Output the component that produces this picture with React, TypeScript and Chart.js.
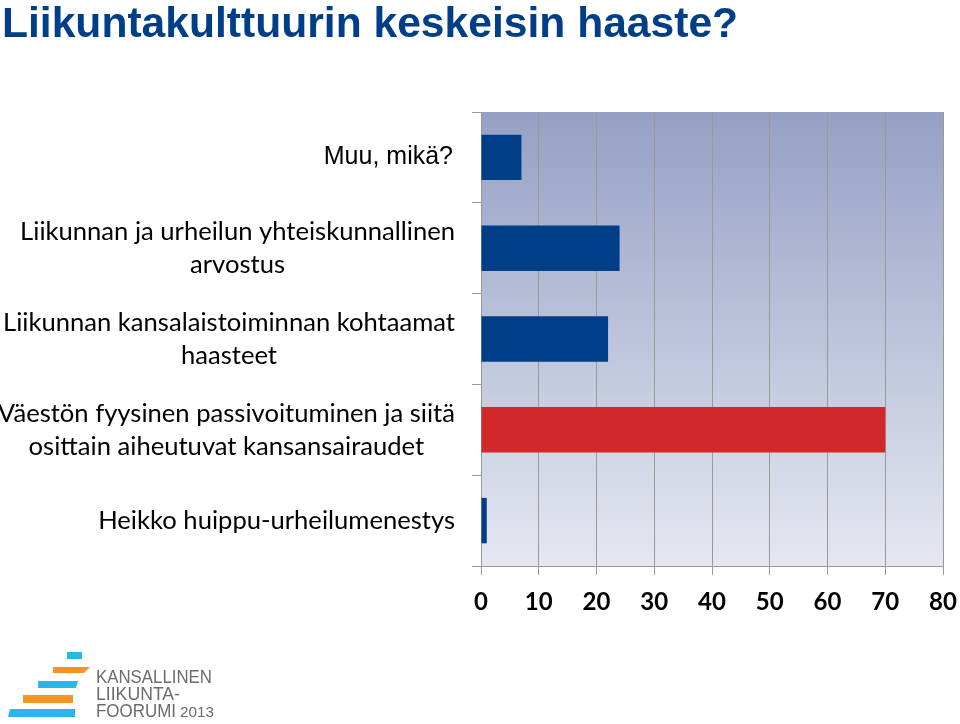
import React, { useEffect, useRef } from "react";
import { Chart, registerables } from "chart.js";

Chart.register(...registerables);

const TITLE = "Liikuntakulttuurin keskeisin haaste?";
const categories: string[][] = [
  ["Muu, mikä?"],
  ["Liikunnan ja urheilun yhteiskunnallinen", "arvostus"],
  ["Liikunnan kansalaistoiminnan kohtaamat", "haasteet"],
  ["Väestön fyysinen passivoituminen ja siitä", "osittain aiheutuvat kansansairaudet"],
  ["Heikko huippu-urheilumenestys"],
];
const values = [7, 24, 22, 70, 1];
const barColors = ["#003f87", "#003f87", "#003f87", "#d3282a", "#003f87"];
const xMin = 0;
const xMax = 80;
const xStep = 10;

const bgPlugin = {
  id: "plotBg",
  beforeDraw(chart: any) {
    const { ctx, chartArea } = chart;
    if (!chartArea) return;
    const g = ctx.createLinearGradient(0, chartArea.top, 0, chartArea.bottom);
    g.addColorStop(0, "#95a0c4");
    g.addColorStop(1, "#e5e8f1");
    ctx.save();
    ctx.fillStyle = g;
    ctx.fillRect(chartArea.left, chartArea.top, chartArea.right - chartArea.left, chartArea.bottom - chartArea.top);
    ctx.restore();
  },
};

const labelPlugin = {
  id: "catLabels",
  afterDraw(chart: any) {
    const { ctx, chartArea } = chart;
    const yScale = chart.scales.y;
    const right = chartArea.left - 26;
    ctx.save();
    ctx.fillStyle = "#000";
    ctx.textAlign = "center";
    ctx.textBaseline = "middle";
    categories.forEach((lines, i) => {
      const cy = yScale.getPixelForValue(i);
      const first = i === 0;
      ctx.font = first ? '25px "Liberation Sans"' : "25.6px Lato";
      const lh = first ? 28 : 33;
      const w = Math.max(...lines.map((l) => ctx.measureText(l).width));
      const cx = (first ? right - 2 : right) - w / 2;
      lines.forEach((l, j) => {
        ctx.fillText(l, cx, cy + (j - (lines.length - 1) / 2) * lh);
      });
    });
    ctx.restore();
  },
};

function Logo() {
  return (
    <svg width={230} height={84} style={{ position: "absolute", left: 0, top: 640 }}>
      <polygon points="67,12 82,12 82,19 67,19" fill="#2cb5e8" />
      <polygon points="53,27 90,27 84,33 53,33" fill="#f7941d" />
      <polygon points="38,41 78,41 76,48 38,48" fill="#2cb5e8" />
      <polygon points="23,55 73,55 73,63 23,63" fill="#f7941d" />
      <polygon points="10,69 75,69 75,77 8,77" fill="#2cb5e8" />
      <text x={96} y={43} fontFamily="Liberation Sans" fontSize={19} fill="#6b6b6b" textLength={116} lengthAdjust="spacingAndGlyphs">KANSALLINEN</text>
      <text x={96} y={60} fontFamily="Liberation Sans" fontSize={19} fill="#6b6b6b" textLength={84} lengthAdjust="spacingAndGlyphs">LIIKUNTA-</text>
      <text x={96} y={77} fontFamily="Liberation Sans" fontSize={19} fill="#6b6b6b" textLength={80} lengthAdjust="spacingAndGlyphs">FOORUMI</text>
      <text x={180} y={77} fontFamily="Liberation Sans" fontSize={14} fill="#6b6b6b" textLength={34} lengthAdjust="spacingAndGlyphs">2013</text>
    </svg>
  );
}

export default function App() {
  const ref = useRef<HTMLCanvasElement | null>(null);
  useEffect(() => {
    if (!ref.current) return;
    const chart = new Chart(ref.current, {
      type: "bar",
      data: {
        labels: categories,
        datasets: [
          {
            data: values,
            backgroundColor: barColors,
            borderWidth: 0,
            barPercentage: 0.5,
            categoryPercentage: 1,
          },
        ],
      },
      options: {
        indexAxis: "y",
        animation: false,
        responsive: false,
        layout: { padding: { top: 112, left: 0, right: 17, bottom: 98 } },
        plugins: { legend: { display: false }, tooltip: { enabled: false } },
        scales: {
          x: {
            min: xMin,
            max: xMax,
            ticks: {
              stepSize: xStep,
              color: "#000",
              font: { family: "Lato", size: 24, weight: "bold" },
              padding: 13,
            },
            grid: { color: "#999", lineWidth: 1, tickLength: 9, drawTicks: true },
            border: { display: true, color: "#999" },
            afterFit: (s: any) => {
              s.height = 60;
              s.paddingLeft = 0;
              s.paddingRight = 0;
            },
          },
          y: {
            type: "category",
            offset: true,
            ticks: { display: false },
            grid: { offset: true, drawOnChartArea: false, drawTicks: true, tickLength: 9, color: "#999" },
            border: { display: true, color: "#999" },
            afterFit: (s: any) => {
              s.width = 481;
            },
          },
        },
      } as any,
      plugins: [bgPlugin, labelPlugin],
    });
    return () => chart.destroy();
  }, []);

  return (
    <div style={{ position: "fixed", left: 0, top: 0, width: 960, height: 724, background: "#fff", overflow: "hidden" }}>
      <canvas ref={ref} width={960} height={724} style={{ position: "absolute", left: 0, top: 0, width: 960, height: 724 }} />
      <div
        style={{
          position: "absolute",
          left: 2,
          top: 1,
          fontFamily: '"Liberation Sans", Arial, sans-serif',
          fontWeight: "bold",
          fontSize: 42.6,
          lineHeight: "42px",
          color: "#003f87",
          whiteSpace: "nowrap",
        }}
      >
        {TITLE}
      </div>
      <Logo />
    </div>
  );
}
